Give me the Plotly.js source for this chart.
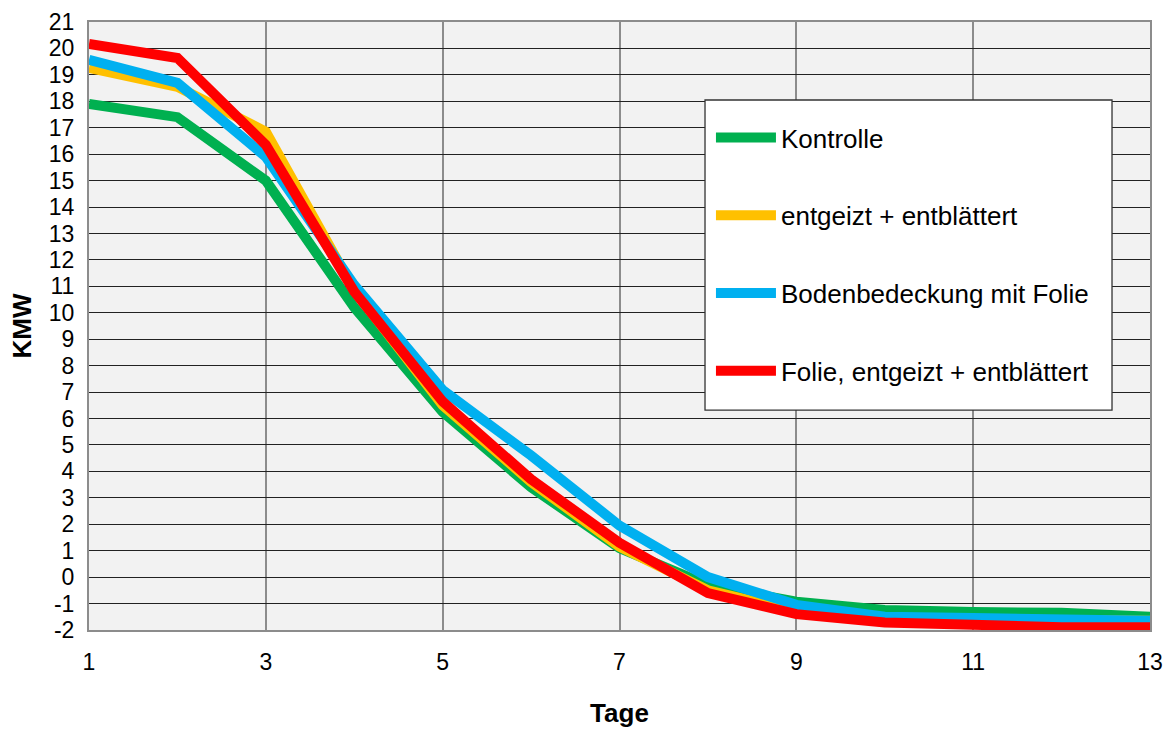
<!DOCTYPE html>
<html>
<head>
<meta charset="utf-8">
<script src="https://cdn.plot.ly/plotly-3.0.1.min.js"></script>
<style>html,body{margin:0;padding:0;background:#fff;}#chart{width:1169px;height:731px;}</style>
</head>
<body>
<div id="chart"></div>
<script>
const days = [1,2,3,4,5,6,7,8,9,10,11,12,13];
const kontrolle = [17.9,17.4,15.0,10.2,6.25,3.4,1.1,-0.3,-0.93,-1.24,-1.32,-1.35,-1.5];
const entgeizt = [19.26,18.55,16.85,10.85,6.5,3.6,1.15,-0.5,-1.3,-1.55,-1.6,-1.58,-1.65];
const folie = [19.57,18.7,15.9,11.05,7.08,4.6,1.95,0.0,-1.05,-1.5,-1.55,-1.6,-1.65];
const folieEntgeizt = [20.17,19.64,16.35,10.8,6.64,3.7,1.3,-0.6,-1.4,-1.72,-1.8,-1.9,-1.9];
const names = ["Kontrolle","entgeizt + entblättert","Bodenbedeckung mit Folie","Folie, entgeizt + entblättert"];
const colors = ["#00B050","#FFC000","#00B0F0","#FF0000"];
const series = [kontrolle, entgeizt, folie, folieEntgeizt];
const yTicks = [-2,-1,0,1,2,3,4,5,6,7,8,9,10,11,12,13,14,15,16,17,18,19,20,21];
const xTicks = [1,3,5,7,9,11,13];

const traces = series.map((s,i)=>({
  x: days, y: s, type:'scatter', mode:'lines', name: names[i],
  legendgroup: 'g'+i,
  line:{color: colors[i], width: 10}
}));

const font = "Liberation Sans, Arial, sans-serif";
const layout = {
  width:1169, height:731,
  margin:{l:89, r:19, t:22, b:101},
  paper_bgcolor:'#ffffff', plot_bgcolor:'#F2F2F2',
  font:{family:font, size:23, color:'#000'},
  showlegend:true,
  legend:{x:0.5862, y:0.8487, xanchor:'left', yanchor:'top',
    bgcolor:'rgba(0,0,0,0)', borderwidth:0,
    font:{family:font, size:26, color:'#000'},
    traceorder:'grouped', tracegroupgap:41, itemwidth:60},
  shapes:[{type:'rect', xref:'paper', yref:'paper',
    x0:0.5806, x1:0.9642, y0:0.3618, y1:0.8717,
    fillcolor:'#ffffff', line:{color:'#333', width:1.3}, layer:'above'}],
  xaxis:{range:[1,13], tickvals:xTicks, ticktext:xTicks.map(String),
    showgrid:true, gridcolor:'#8c8c8c', gridwidth:2,
    showline:true, linecolor:'#8c8c8c', linewidth:2, mirror:true,
    ticks:'', zeroline:false, ticklabelstandoff:10,
    tickfont:{family:font, size:23},
    title:{text:'<b>Tage</b>', font:{family:font, size:26}, standoff:30}},
  yaxis:{range:[-2,21], tickvals:yTicks, ticktext:yTicks.map(String),
    showgrid:true, gridcolor:'#222', gridwidth:1,
    showline:true, linecolor:'#8c8c8c', linewidth:2, mirror:true,
    ticks:'', zeroline:false, ticklabelstandoff:8,
    tickfont:{family:font, size:23},
    title:{text:'<b>KMW</b>', font:{family:font, size:26}, standoff:10}}
};
Plotly.newPlot('chart', traces, layout, {displayModeBar:false, staticPlot:true});
</script>
</body>
</html>
